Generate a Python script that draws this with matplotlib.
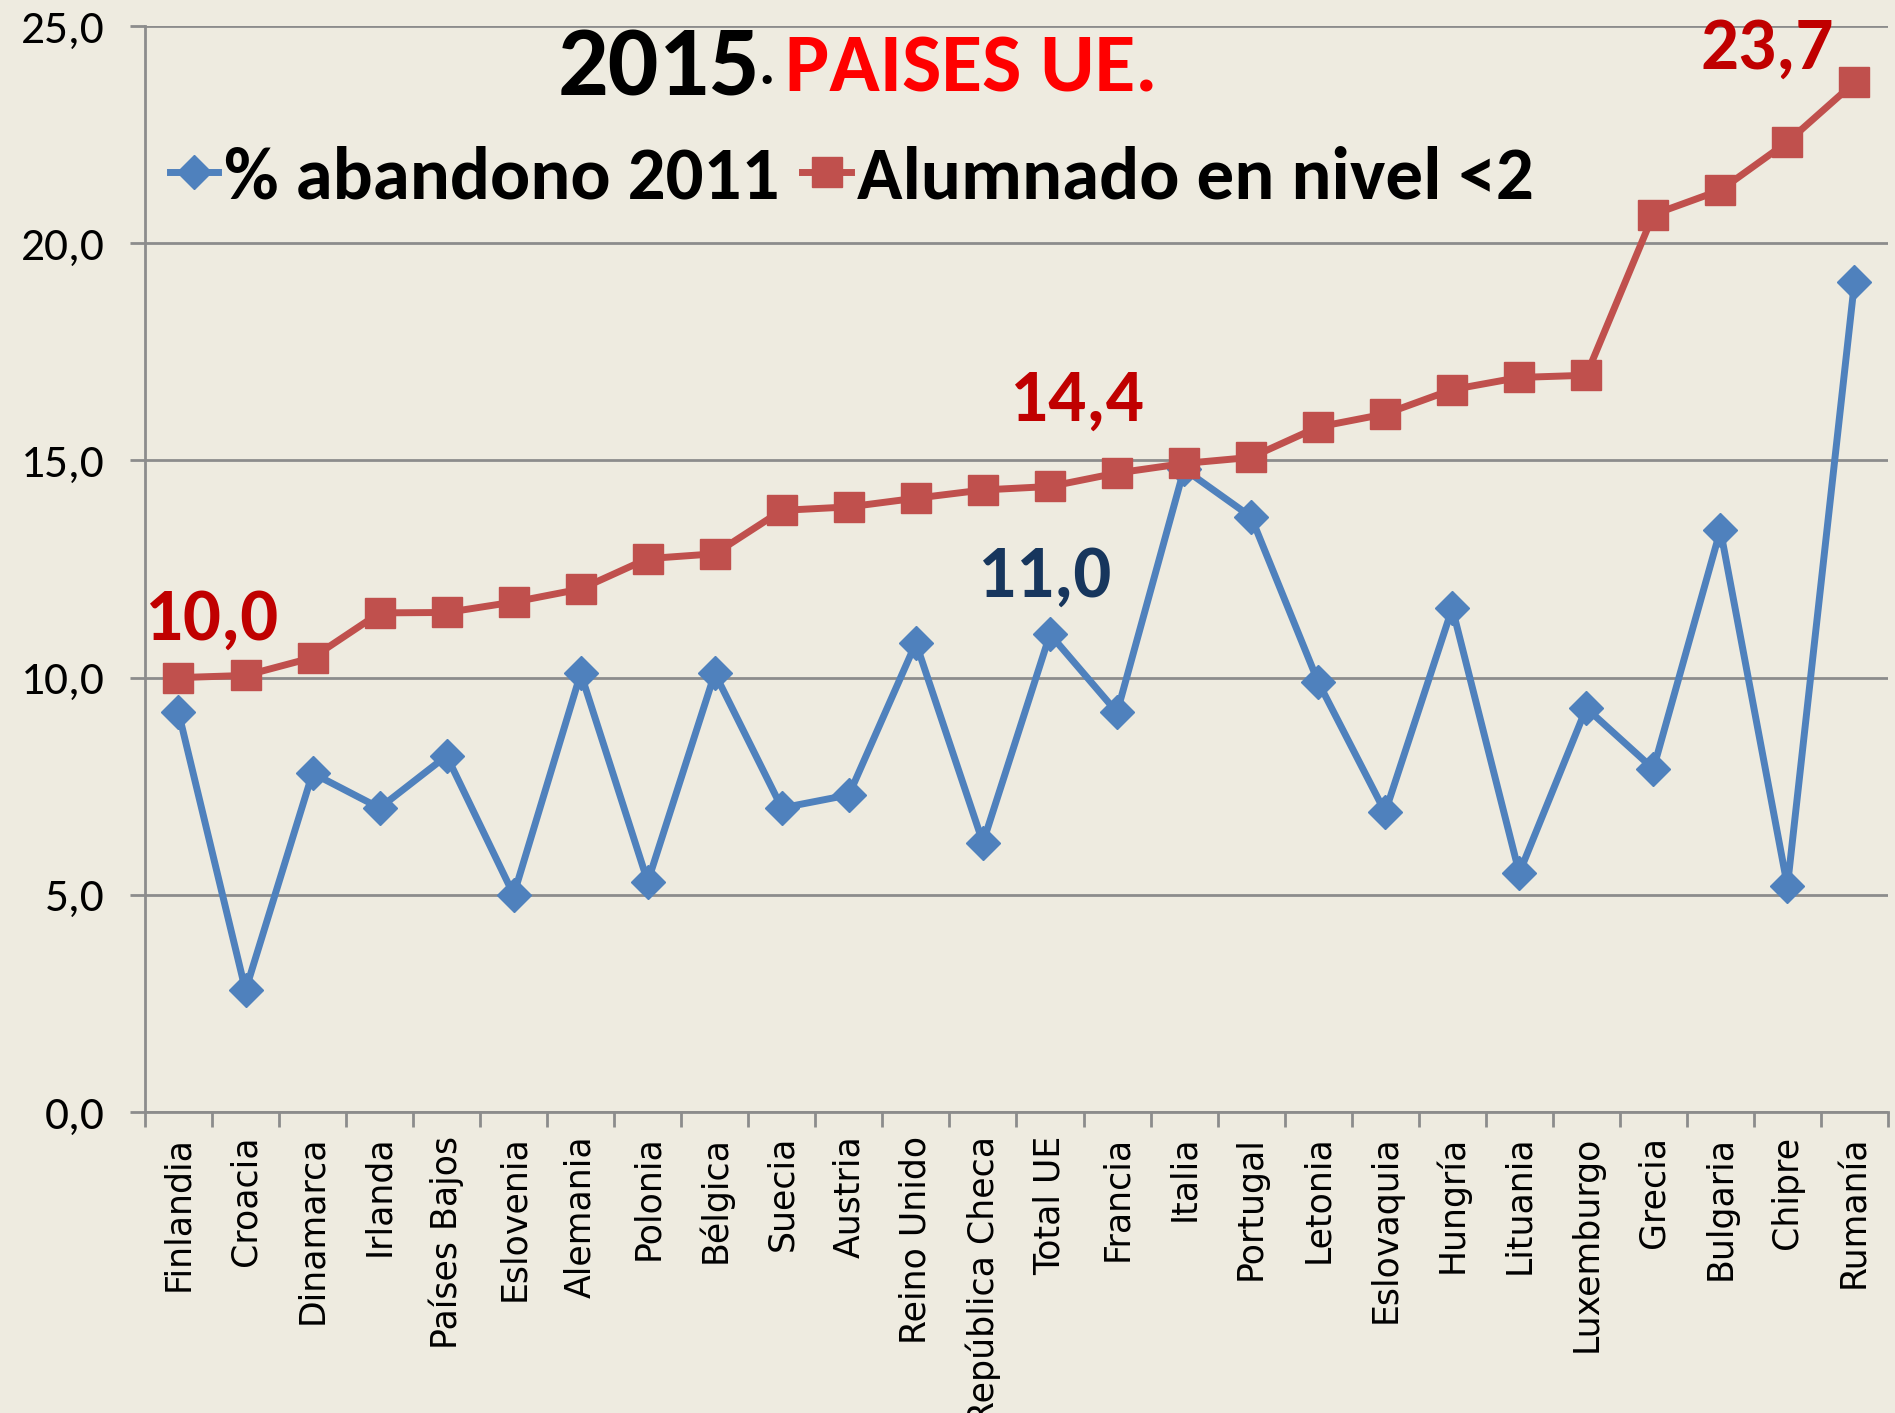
import matplotlib
matplotlib.use("Agg")
import matplotlib.pyplot as plt
from matplotlib import font_manager as fm
import numpy as np

# ─── datos ───
paises = ["Finlandia", "Croacia", "Dinamarca", "Irlanda", "Países Bajos",
          "Eslovenia", "Alemania", "Polonia", "Bélgica", "Suecia", "Austria",
          "Reino Unido", "República Checa", "Total UE", "Francia", "Italia",
          "Portugal", "Letonia", "Eslovaquia", "Hungría", "Lituania",
          "Luxemburgo", "Grecia", "Bulgaria", "Chipre", "Rumanía"]

abandono_2011 = [9.2, 2.8, 7.8, 7.0, 8.2, 5.0, 10.1, 5.3, 10.1, 7.0, 7.3,
                 10.8, 6.2, 11.0, 9.2, 14.8, 13.7, 9.9, 6.9, 11.6, 5.5,
                 9.3, 7.9, 13.4, 5.2, 19.1]

nivel_bajo_2 = [10.0, 10.05, 10.46, 11.49, 11.5, 11.74, 12.04, 12.74, 12.85,
                13.85, 13.93, 14.13, 14.32, 14.4, 14.71, 14.93, 15.07, 15.77,
                16.07, 16.63, 16.91, 16.96, 20.66, 21.22, 22.33, 23.7]

y_ticks = [0, 5, 10, 15, 20, 25]

BG = "#EEEBE0"
AZUL = "#4F81BD"
ROJO = "#C0504D"

# fuente tipo Calibri si existe
disponibles = {f.name for f in fm.fontManager.ttflist}
CAL = "DejaVu Sans"
k = 0.78
for cand in ["Carlito", "Liberation Sans Narrow", "Roboto Condensed",
             "Open Sans Condensed"]:
    if cand in disponibles:
        CAL = cand
        k = 1.0
        break
FAM = [CAL, "DejaVu Sans"]

fig = plt.figure(figsize=(18.95, 14.13), dpi=100, facecolor=BG)
ax = fig.add_axes([0.0765, 0.213, 0.9198, 0.7686], facecolor=BG)

x = np.arange(len(paises))
ax.plot(x, abandono_2011, color=AZUL, lw=5, marker="D", ms=17,
        label="% abandono 2011", zorder=3)
ax.plot(x, nivel_bajo_2, color=ROJO, lw=5, marker="s", ms=21,
        label="Alumnado en nivel <2", zorder=3)

ax.set_xlim(-0.5, len(paises) - 0.5)
ax.set_ylim(0, 25)
ax.set_yticks(y_ticks)
ax.set_yticklabels([f"{v:.1f}".replace(".", ",") for v in y_ticks],
                   fontsize=34 * k, family=FAM)
ax.yaxis.grid(True, color="#8C8C8C", lw=2)
ax.set_axisbelow(True)

ax.set_xticks(x)
ax.set_xticklabels(paises, rotation=90, fontsize=25)
ax.set_xticks(np.arange(len(paises) + 1) - 0.5, minor=True)
ax.tick_params(axis="x", which="major", length=0, pad=17)
ax.tick_params(axis="x", which="minor", length=11, width=2, color="#8C8C8C")
ax.tick_params(axis="y", length=11, width=2, color="#8C8C8C", pad=18)

for s in ["top", "right"]:
    ax.spines[s].set_visible(False)
for s in ["left", "bottom"]:
    ax.spines[s].set_color("#8C8C8C")
    ax.spines[s].set_linewidth(2)

# etiquetas de valores
anot = [(0, nivel_bajo_2[0], "10,0", "#C00000", (24, 42)),
        (13, nivel_bajo_2[13], "14,4", "#C00000", (19, 62)),
        (13, abandono_2011[13], "11,0", "#17365D", (-4, 42)),
        (25, nivel_bajo_2[25], "23,7", "#C00000", (-63, 25))]
for xi, yi, txt, c, off in anot:
    ax.annotate(txt, (xi, yi), xytext=off, textcoords="offset points",
                ha="center", va="center", fontsize=54 * k, fontweight="bold",
                color=c, family=FAM)

# título
fig.text(0.294, 0.952, "2015", fontsize=72 * k, fontweight="bold",
         family=FAM, ha="left", va="center")
fig.text(0.400, 0.952, ".", fontsize=44 * k, fontweight="bold",
         family=FAM, ha="left", va="center")
fig.text(0.414, 0.951, "PAISES UE.", fontsize=60 * k, fontweight="bold",
         color="#FF0000", family=FAM, ha="left", va="center")

leg = ax.legend(loc="center left", bbox_to_anchor=(-0.003, 0.86), ncol=2,
                frameon=False, handlelength=0.65, handletextpad=0.08,
                columnspacing=0.3, borderaxespad=0,
                prop={"family": FAM, "weight": "bold", "size": 54 * k})

fig.savefig("out.png", dpi=100, facecolor=BG)
